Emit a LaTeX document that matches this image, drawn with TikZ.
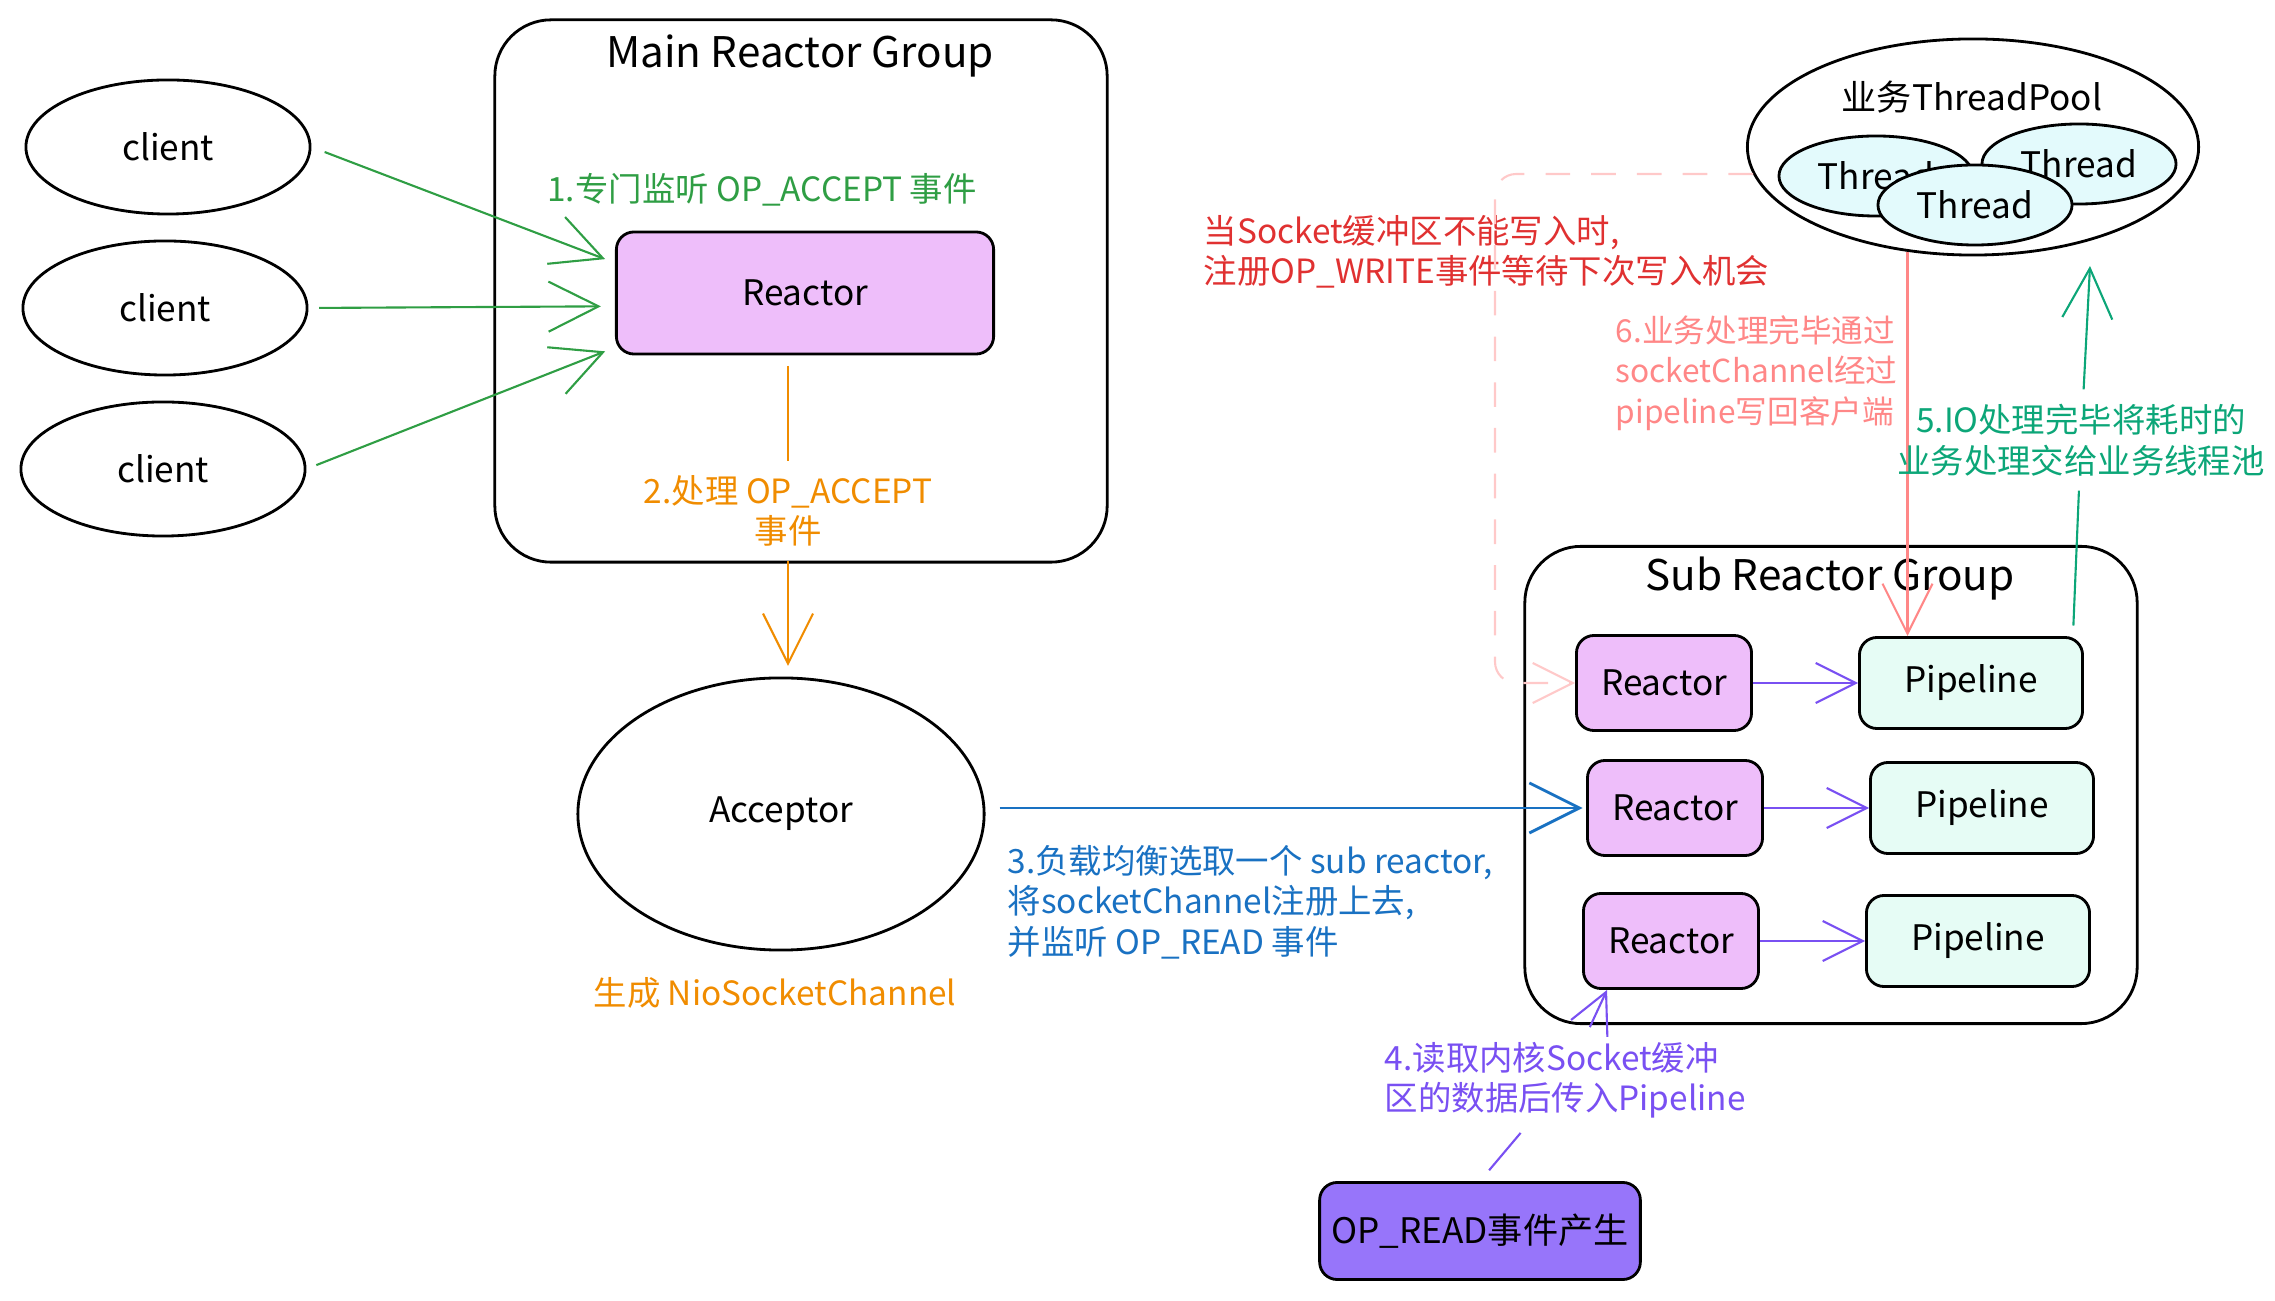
\documentclass[tikz,border=0pt]{standalone}
\usepackage{fontspec}
\setmainfont{Noto Sans CJK SC}
\usetikzlibrary{shapes.geometric,arrows.meta,positioning,calc}
\definecolor{exgreen}{HTML}{2F9E44}
\definecolor{exorange}{HTML}{F08C00}
\definecolor{exblue}{HTML}{1971C2}
\definecolor{exviolet}{HTML}{7950F2}
\definecolor{exteal}{HTML}{0CA678}
\definecolor{exsalmon}{HTML}{FF8787}
\definecolor{exred}{HTML}{E03131}
\definecolor{expink}{HTML}{FFC9C9}
\definecolor{rctfill}{HTML}{EEBEFA}
\definecolor{pplfill}{HTML}{E6FCF5}
\definecolor{thrfill}{HTML}{E3FAFC}
\definecolor{evtfill}{HTML}{9775FA}
\tikzset{
  grp/.style  ={rectangle, rounded corners=16pt, draw=black, line width=0.8pt,
                minimum width=6.12cm},
  ttl/.style  ={font=\fontsize{12}{14}\selectfont},
  rct/.style  ={rectangle, rounded corners=5pt, draw=black, line width=0.8pt,
                fill=rctfill, minimum width=1.75cm, minimum height=0.95cm,
                font=\fontsize{10}{12}\selectfont},
  ppl/.style  ={rectangle, rounded corners=5pt, draw=black, line width=0.8pt,
                fill=pplfill, minimum width=2.23cm, minimum height=0.91cm,
                font=\fontsize{10}{12}\selectfont},
  cli/.style  ={ellipse, draw=black, line width=0.8pt, inner sep=0pt,
                minimum width=2.84cm, minimum height=1.34cm,
                font=\fontsize{10}{12}\selectfont},
  thr/.style  ={ellipse, draw=black, line width=0.8pt, fill=thrfill, inner sep=0pt,
                minimum width=1.94cm, minimum height=0.8cm,
                font=\fontsize{10}{12}\selectfont},
  lbl/.style  ={font=\fontsize{9.5}{11.5}\selectfont, inner sep=0pt},
  ar/.style   ={-{Straight Barb[length=5mm,width=5mm]}, line width=0.6pt},
  sar/.style  ={-{Straight Barb[length=4mm,width=4mm]}, line width=0.6pt}
}
\begin{document}
\begin{tikzpicture}[x=0.01cm, y=-0.01cm, node distance=1.05cm]
\useasboundingbox (0,0) rectangle (2275,1301);
\node[grp, minimum height=5.42cm] (mgrp) at (801,291) {};
\node[ttl] (mttl) at (800,56) {Main Reactor Group};
\node[rct, minimum width=3.77cm, minimum height=1.22cm] (rct0) at (805,293) {Reactor};
\node[cli] (cl1) at (168,147) {client};
\node[cli] (cl2) at (165,308) {client};
\node[cli] (cl3) at (163,469) {client};
\node[lbl, text=exgreen] (lbl1) at (762,190) {1.专门监听 OP\_ACCEPT 事件};
\draw[ar, exgreen, shorten <=4pt, shorten >=3pt] (cl1.east) -- (rct0.171);
\draw[ar, exgreen, shorten <=3pt, shorten >=4pt] (cl2.east) -- (rct0.184);
\draw[ar, exgreen, shorten <=3pt, shorten >=3pt] (cl3.east) -- (rct0.196);
\node[cli, minimum width=4.06cm, minimum height=2.72cm] (acc) at (781,814) {Acceptor};
\node[lbl, text=exorange, align=center, inner sep=4pt] (lbl2) at (788,511)
  {2.处理 OP\_ACCEPT\\事件};
\draw[exorange, line width=0.6pt, shorten <=3pt] (rct0.south -| lbl2) -- (lbl2);
\draw[ar, exorange, shorten >=3pt] (lbl2) -- (acc.north -| lbl2);
\node[lbl, text=exorange] (lblnio) at (775,993) {生成 NioSocketChannel};
\node[grp, minimum height=4.77cm] (sgrp) at (1831,785) {};
\node[ttl] (sttl) at (1830,579) {Sub Reactor Group};
\node[rct] (rct1) at (1664,683) {Reactor};
\node[rct] (rct2) at (1675,808) {Reactor};
\node[rct] (rct3) at (1671,941) {Reactor};
\node[ppl, right=of rct1] (ppl1) {Pipeline};
\node[ppl, right=of rct2] (ppl2) {Pipeline};
\node[ppl, right=of rct3] (ppl3) {Pipeline};
\foreach \n in {1,2,3}{\draw[sar, exviolet] (rct\n) -- (ppl\n);}
\draw[ar, exblue, line width=0.8pt, shorten <=4pt, shorten >=1pt] (acc.east |- rct2.west) -- (rct2.west);
\node[lbl, text=exblue, anchor=west, align=left] (lbl3) at (1007,902)
  {3.负载均衡选取一个 sub reactor,\\将socketChannel注册上去,\\并监听 OP\_READ 事件};
\node[rct, fill=evtfill, minimum width=3.2cm, minimum height=0.97cm] (evt) at (1480,1231)
  {OP\_READ事件产生};
\node[lbl, text=exviolet, anchor=west, align=left, inner sep=4pt] (lbl4) at (1370,1080)
  {4.读取内核Socket缓冲\\区的数据后传入Pipeline};
\draw[exviolet, line width=0.6pt, shorten <=4pt] (evt.north) -- (lbl4);
\draw[sar, exviolet] (lbl4) -- ([xshift=0.25cm]rct3.south west);
\node[ellipse, draw=black, line width=0.8pt, minimum width=4.51cm, minimum height=2.16cm]
  (pool) at (1973,147) {};
\node[lbl, font=\fontsize{10}{12}\selectfont] (pttl) at (1972,97) {业务ThreadPool};
\node[thr] (thr1) at (1876,176) {Thread};
\node[thr] (thr2) at (2079,164) {Thread};
\node[thr] (thr3) at (1975,205) {Thread};
\node[lbl, text=exsalmon, anchor=west, align=left, font=\fontsize{9}{11.5}\selectfont]
  (lbl6) at (1615,373) {6.业务处理完毕通过\\socketChannel经过\\pipeline写回客户端};
\draw[ar, exsalmon] (pool.238) -- (pool.238 |- ppl1.north);
\node[lbl, text=exteal, align=center, inner sep=4pt] (lbl5) at (2081,440)
  {5.IO处理完毕将耗时的\\业务处理交给业务线程池};
\coordinate (p5top) at (2090,266);
\draw[exteal, line width=0.6pt, shorten <=3pt] ([xshift=-0.11cm]ppl1.north east) -- (lbl5);
\draw[ar, exteal] (lbl5) -- (p5top);
\node[lbl, text=exred, anchor=west, align=left] (lblw) at (1203,252)
  {当Socket缓冲区不能写入时,\\注册OP\_WRITE事件等待下次写入机会};
\draw[sar, expink, dashed, dash pattern=on 7pt off 6pt, rounded corners=6pt]
  (pool.187) -- ++(-258,0) |- (rct1.west);
\end{tikzpicture}
\end{document}
